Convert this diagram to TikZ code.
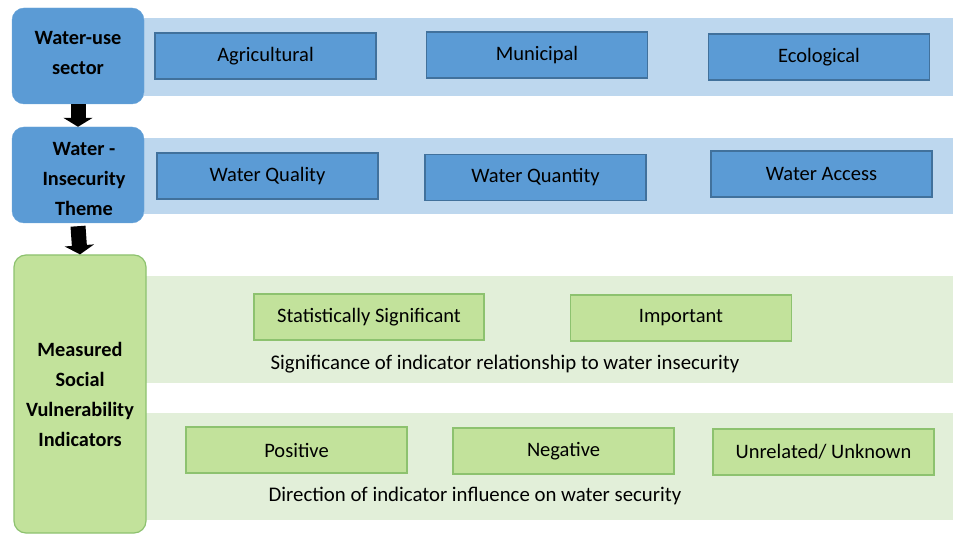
\documentclass[tikz,border=0pt]{standalone}
\usepackage{fontspec}
\setmainfont{Carlito}
\usetikzlibrary{arrows.meta}
\definecolor{bluebox}{HTML}{5B9BD5}
\definecolor{blueline}{HTML}{41719C}
\definecolor{blueband}{HTML}{BDD7EE}
\definecolor{greenbox}{HTML}{C2E29B}
\definecolor{greenline}{HTML}{8DC26F}
\definecolor{greenband}{HTML}{E2EFD9}
\tikzset{
  sidebox/.style={rounded corners=12pt, minimum width=132pt, align=center,
    font=\fontsize{20.3}{30}\selectfont\bfseries, inner sep=0pt},
  bluecat/.style={fill=bluebox, draw=blueline, line width=1.5pt,
    minimum width=221pt, minimum height=46pt, font=\fontsize{20.5}{24}\selectfont},
  greencat/.style={fill=greenbox, draw=greenline, line width=1.5pt,
    minimum width=221pt, minimum height=46pt, font=\fontsize{20.5}{24}\selectfont},
  caption/.style={font=\fontsize{20.8}{24}\selectfont},
  blockarrow/.style={line width=15pt, -{Triangle[width=29pt,length=9pt]}}
}
\begin{document}
\begin{tikzpicture}[x=1pt,y=-1pt]
	\useasboundingbox (0,0) rectangle (953,534);

	% bands
	\fill[blueband] (144,18) rectangle (953,96);
	\fill[blueband] (144,138) rectangle (953,214);
	\fill[greenband] (146,276) rectangle (953,383);
	\fill[greenband] (146,413) rectangle (953,520);

	% left column
	\node[sidebox, fill=bluebox, draw=bluebox!90!white, minimum height=96pt] (sector) at (78,56) {Water-use\\sector\rule[-6pt]{0pt}{0pt}};
	\node[sidebox, fill=bluebox, draw=bluebox!90!white, minimum height=96pt] (theme) at (78,175) {\hspace*{12pt}\rule{0pt}{22pt}Water -\\\hspace*{12pt}Insecurity\\\hspace*{12pt}Theme};
	\node[sidebox, fill=greenbox, draw=greenline, line width=1.2pt, minimum height=278pt] (indic) at (80,394) {Measured\\Social\\Vulnerability\\Indicators};

	\draw[blockarrow] (sector.south) -- (theme.north);
	\draw[blockarrow] ([yshift=-3pt]theme.south) -- (indic.north);

	% water-use sectors
	\node[bluecat] (agri) at (265.5,56) {Agricultural};
	\node[bluecat] (muni) at (537,55) {Municipal};
	\node[bluecat] (eco) at (819,57) {Ecological};

	% themes
	\node[bluecat] (qual) at (267.5,176) {Water Quality};
	\node[bluecat] (quant) at (535.5,177.5) {Water Quantity};
	\node[bluecat] (access) at (821.5,174) {Water Access};

	% indicators
	\node[greencat, minimum width=230pt] (sig) at (369,317) {Statistically Significant};
	\node[greencat] (imp) at (681,318) {Important};
	\node[caption] (sigcap) at (505,364) {Significance of indicator relationship to water insecurity};

	\node[greencat] (pos) at (296.5,450) {Positive};
	\node[greencat] (neg) at (563.5,451) {Negative};
	\node[greencat] (unk) at (823.5,452) {Unrelated/ Unknown};
	\node[caption] (dircap) at (475,496) {Direction of indicator influence on water security};
\end{tikzpicture}
\end{document}
